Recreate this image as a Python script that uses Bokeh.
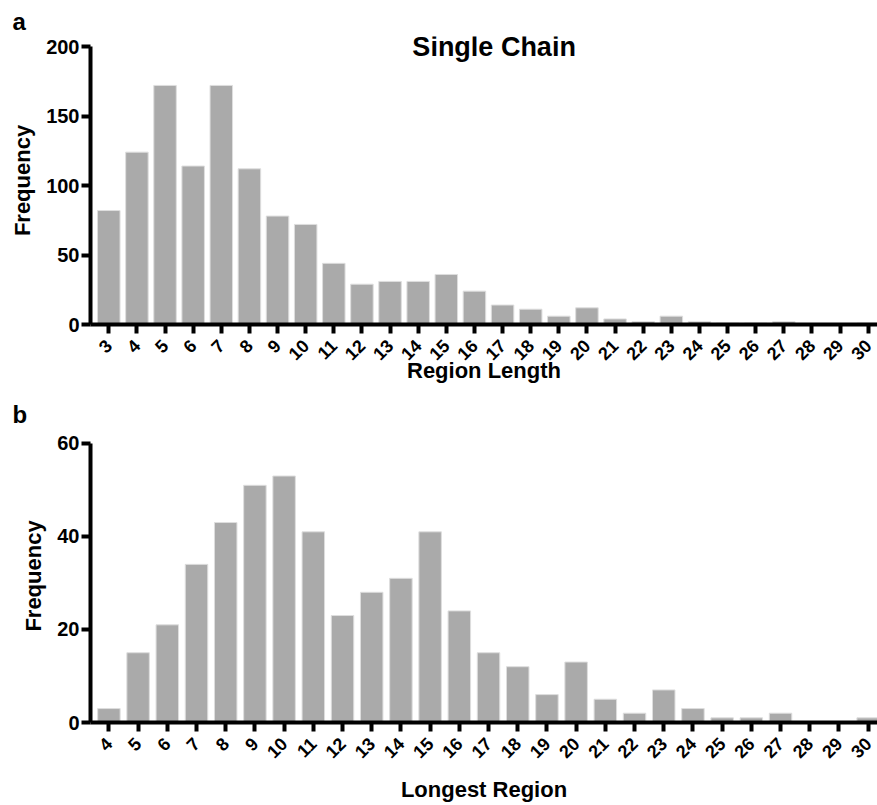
import math

from bokeh.embed import file_html
from bokeh.layouts import column
from bokeh.models import FixedTicker, Label, Range1d
from bokeh.plotting import figure
from bokeh.resources import INLINE

FONT = "Liberation Sans"
BAR_FILL = "#aaaaaa"
BAR_EDGE = "#dedede"

# Panel a: all regions of a single chain
single_lengths = list(range(3, 31))
single_counts = [82, 124, 172, 114, 172, 112, 78, 72, 44, 29, 31, 31, 36, 24,
                 14, 11, 6, 12, 4, 2, 6, 2, 1, 1, 2, 0, 0, 1]
single_yticks = [0, 50, 100, 150, 200]

# Panel b: longest region per chain
longest_lengths = list(range(4, 31))
longest_counts = [3, 15, 21, 34, 43, 51, 53, 41, 23, 28, 31, 41, 24, 15, 12,
                  6, 13, 5, 2, 7, 3, 1, 1, 2, 0, 0, 1]
longest_yticks = [0, 20, 40, 60]


def style_axes(p, xticks, yticks, xlabel, xlabel_standoff):
    p.xaxis.ticker = FixedTicker(ticks=xticks)
    p.yaxis.ticker = FixedTicker(ticks=yticks)
    # the y axis line stops at the top tick; the frame above it is headroom
    p.yaxis.bounds = (yticks[0], yticks[-1])
    p.xaxis.axis_label = xlabel
    p.yaxis.axis_label = "Frequency"
    for ax in (p.xaxis, p.yaxis):
        ax.axis_line_width = 4
        ax.axis_line_color = "black"
        ax.major_tick_line_width = 4
        ax.major_tick_line_color = "black"
        ax.major_tick_out = 9
        ax.major_tick_in = 0
        ax.minor_tick_line_color = None
        ax.major_label_text_font = FONT
        ax.major_label_text_font_style = "bold"
        ax.major_label_text_color = "black"
        ax.axis_label_text_font = FONT
        ax.axis_label_text_font_style = "bold"
        ax.axis_label_text_font_size = "22px"
        ax.axis_label_text_color = "black"
    p.xaxis.major_label_text_font_size = "18px"
    p.yaxis.major_label_text_font_size = "20px"
    p.xaxis.major_label_orientation = math.pi / 4
    p.xaxis.major_label_standoff = 9
    p.xaxis.axis_label_standoff = xlabel_standoff
    p.yaxis.major_label_standoff = 2
    p.yaxis.axis_label_standoff = 8
    p.xgrid.grid_line_color = None
    p.ygrid.grid_line_color = None
    p.outline_line_color = None


def panel(lengths, counts, yticks, x_start, x_end, y_end, frame_top, frame_h,
          bottom, xlabel, xlabel_standoff, letter, bar_width):
    p = figure(
        width=877,
        height=frame_top + frame_h + bottom,
        frame_width=787,
        frame_height=frame_h,
        x_range=Range1d(x_start, x_end),
        y_range=Range1d(0, y_end),
        min_border_left=90,
        min_border_right=0,
        min_border_top=frame_top,
        min_border_bottom=bottom,
        output_backend="svg",
        toolbar_location=None,
        title=letter,
    )
    p.title.align = "left"
    p.title.offset = -78
    p.title.standoff = 4
    p.title.text_font = FONT
    p.title.text_font_style = "bold"
    p.title.text_font_size = "24px"
    p.title.text_color = "black"
    p.vbar(x=lengths, top=counts, width=bar_width, bottom=0,
           fill_color=BAR_FILL, line_color=BAR_EDGE, line_width=1)
    style_axes(p, lengths, yticks, xlabel, xlabel_standoff)
    return p


top = panel(single_lengths, single_counts, single_yticks, 2.35, 30.33, 207.2,
            36, 288, 71, "Region Length", -11, "a", 0.8)
top.add_layout(Label(x=16.7, y=200, text="Single Chain", text_font=FONT,
                     text_font_style="bold", text_font_size="27px",
                     text_align="center", text_baseline="middle",
                     text_color="black"))

bottom = panel(longest_lengths, longest_counts, longest_yticks, 3.37, 30.32, 63.0,
               34, 293, 83, "Longest Region", 10, "b", 0.77)

layout = column(top, bottom, spacing=0)
open("out.html", "w").write(file_html(layout, INLINE))
